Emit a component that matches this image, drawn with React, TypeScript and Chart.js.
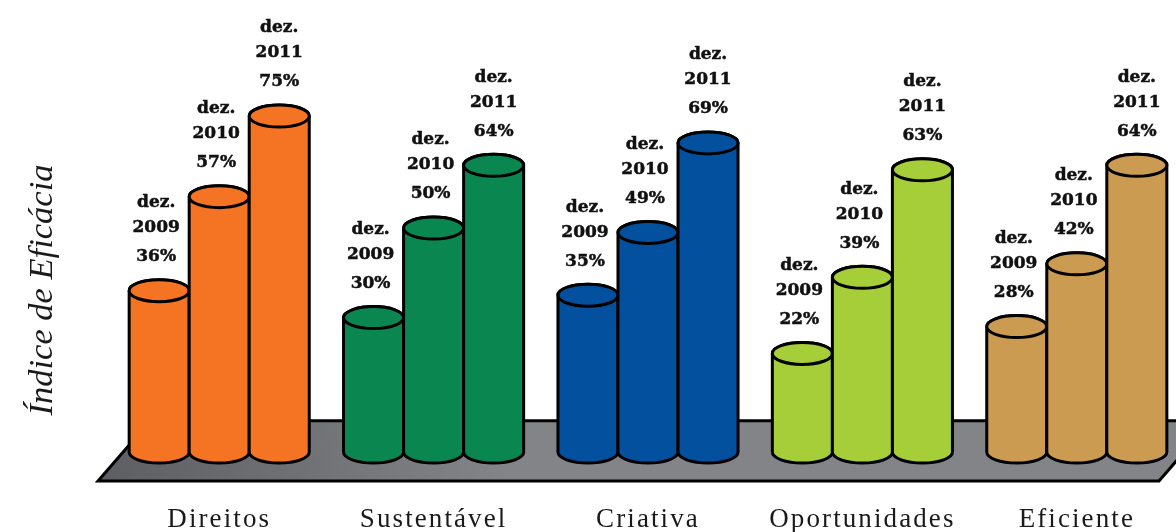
import React, { useEffect, useRef } from "react";
import { Chart, registerables } from "chart.js";

Chart.register(...registerables);

const categories = ["Direitos", "Sustentável", "Criativa", "Oportunidades", "Eficiente"];
const periods = ["2009", "2010", "2011"];
const values2009 = [36, 30, 35, 22, 28];
const values2010 = [57, 50, 49, 39, 42];
const values2011 = [75, 64, 69, 63, 64];
const categoryColors = ["#F47424", "#0A8650", "#03509E", "#A6CE39", "#CC9B52"];
const yTitle = "Índice de Eficácia";

const RY = 11;
const LABEL_DX = [-3, -3, 0];

const cylinderPlugin = {
  id: "cylinders",
  beforeDraw(chart: any) {
    chart.ctx.letterSpacing = "0px";
  },
  beforeDatasetsDraw(chart: any) {
    const { ctx, chartArea: a, scales } = chart;
    const yFront = a.bottom;
    const yBack = scales.y.getPixelForValue(7);
    const dx = ((yFront - yBack) * 52) / 60;
    const xl = a.left - 14;
    const xr = a.right - 25;
    ctx.save();
    const g = ctx.createLinearGradient(xl, yFront, xl + 400, yBack);
    g.addColorStop(0, "#5D5E62");
    g.addColorStop(1, "#838487");
    ctx.beginPath();
    ctx.moveTo(xl, yFront);
    ctx.lineTo(xl + dx, yBack);
    ctx.lineTo(xr + dx, yBack);
    ctx.lineTo(xr, yFront);
    ctx.closePath();
    ctx.fillStyle = g;
    ctx.fill();
    ctx.lineWidth = 3;
    ctx.strokeStyle = "#000";
    ctx.stroke();
    ctx.restore();
  },
  afterDatasetsDraw(chart: any) {
    const { ctx } = chart;
    ctx.save();
    chart.data.datasets.forEach((ds: any, di: number) => {
      chart.getDatasetMeta(di).data.forEach((bar: any, i: number) => {
        const { x, y, base, width } = bar;
        const rx = width / 2;
        ctx.lineWidth = 3;
        ctx.strokeStyle = "#000";
        ctx.fillStyle = ds.backgroundColor[i];
        ctx.beginPath();
        ctx.moveTo(x - rx, y);
        ctx.lineTo(x - rx, base);
        ctx.ellipse(x, base, rx, RY, 0, Math.PI, 0, true);
        ctx.lineTo(x + rx, y);
        ctx.ellipse(x, y, rx, RY, 0, 0, Math.PI, true);
        ctx.closePath();
        ctx.fill();
        ctx.stroke();
        ctx.beginPath();
        ctx.ellipse(x, y, rx, RY, 0, 0, Math.PI * 2);
        ctx.fill();
        ctx.stroke();
      });
    });
    ctx.fillStyle = "#111";
    ctx.strokeStyle = "#111";
    ctx.lineWidth = 0.5;
    ctx.font = "bold 17px 'DejaVu Serif'";
    ctx.textAlign = "center";
    ctx.textBaseline = "middle";
    const put = (t: string, x: number, y: number) => {
      ctx.fillText(t, x, y);
      ctx.strokeText(t, x, y);
    };
    chart.data.datasets.forEach((ds: any, di: number) => {
      chart.getDatasetMeta(di).data.forEach((bar: any, i: number) => {
        const x = bar.x + LABEL_DX[di];
        put("dez.", x, bar.y - 88);
        put(periods[di], x, bar.y - 63);
        put(ds.data[i] + "%", x, bar.y - 34);
      });
    });
    ctx.restore();
    // category tick labels are on a later layer and are spaced out
    ctx.letterSpacing = "2.1px";
  },
};

export default function App() {
  const ref = useRef<HTMLCanvasElement>(null);
  useEffect(() => {
    const chart = new Chart(ref.current!, {
      type: "bar",
      data: {
        labels: categories,
        datasets: [values2009, values2010, values2011].map((data, i) => ({
          label: periods[i],
          data,
          backgroundColor: categoryColors,
          borderWidth: 0,
          barPercentage: 1,
          categoryPercentage: 0.84,
        })),
      },
      plugins: [cylinderPlugin],
      options: {
        animation: false,
        responsive: false,
        layout: { padding: { top: 99, bottom: 0, left: 0, right: 0 } },
        plugins: { legend: { display: false }, tooltip: { enabled: false } },
        scales: {
          x: {
            grid: { display: false },
            border: { display: false },
            ticks: {
              color: "#1a1a1a",
              font: { family: "'Liberation Serif'", size: 27 },
              padding: 15,
              maxRotation: 0,
              autoSkip: false,
              z: 1,
            },
            afterFit(s: any) {
              s.height = 532 - 99 - 382;
            },
          },
          y: {
            min: -6.47,
            max: 78.8,
            grid: { display: false },
            border: { display: false },
            ticks: { display: false },
            title: {
              display: true,
              text: yTitle,
              color: "#1a1a1a",
              font: { family: "'Liberation Serif'", size: 34.5, style: "italic" },
              padding: { top: 22, bottom: 0 },
            },
            afterFit(s: any) {
              s.width = 112;
            },
          },
        },
      } as any,
    });
    return () => chart.destroy();
  }, []);
  return (
    <div style={{ position: "fixed", left: 0, top: 0, width: 1176, height: 532, overflow: "hidden", background: "#fff" }}>
      <canvas ref={ref} width={1184} height={532} style={{ display: "block" }} />
    </div>
  );
}
